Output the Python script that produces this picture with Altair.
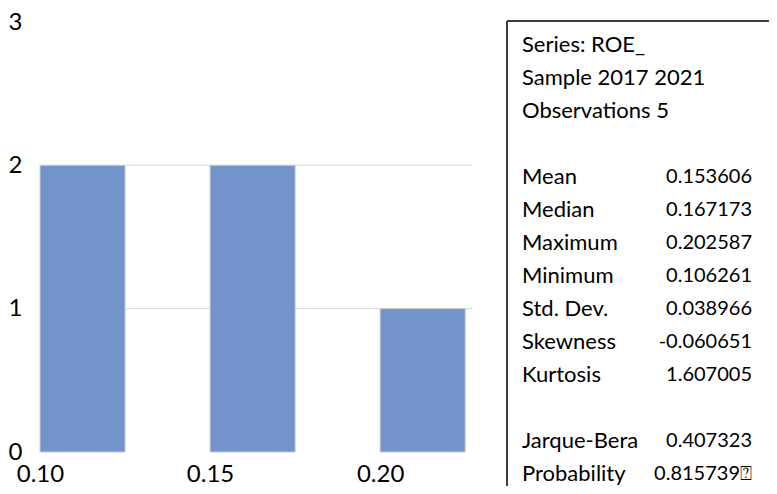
import altair as alt
import pandas as pd

# Histogram data
bin_start = [0.100, 0.125, 0.150, 0.175, 0.200]
bin_end = [0.125, 0.150, 0.175, 0.200, 0.225]
counts = [2, 0, 2, 0, 1]

# Gridline values
grid_values = [1, 2]

# Stats table
stat_labels = ["Series: ROE_", "Sample 2017 2021", "Observations 5",
               "Mean", "Median", "Maximum", "Minimum", "Std. Dev.",
               "Skewness", "Kurtosis", "Jarque-Bera", "Probability"]
stat_values = ["", "", "",
               "0.153606", "0.167173", "0.202587", "0.106261", "0.038966",
               "-0.060651", "1.607005", "0.407323", "0.815739\u2370"]
stat_rows = [0, 1, 2, 4, 5, 6, 7, 8, 9, 10, 12, 13]

FONT = "Lato"

hist = pd.DataFrame({"start": bin_start, "end": bin_end, "count": counts})
grid = pd.DataFrame({"g": grid_values})
table = pd.DataFrame({"label": stat_labels, "value": stat_values, "row": stat_rows})

xscale = alt.Scale(domain=[0.1, 0.227], nice=False, zero=False, padding=0)
yscale = alt.Scale(domain=[0, 3], nice=False, padding=0)

yaxis = alt.Axis(values=[0, 1, 2, 3], ticks=False, domain=False, grid=False,
                 labelFont=FONT, labelFontSize=24, labelColor="#000000",
                 labelPadding=18, labelFlush=False)

rules = alt.Chart(grid).mark_rule(color="#D9D9D9", strokeWidth=1).encode(
    y=alt.Y("g:Q", scale=yscale, axis=yaxis, title=None)
)

bars = alt.Chart(hist).transform_filter("datum.count > 0").mark_bar(
    color="#7394CB", stroke="#CACACA", strokeWidth=1, orient="vertical"
).encode(
    x=alt.X("start:Q", scale=xscale, title=None,
            axis=alt.Axis(values=[0.10, 0.15, 0.20], format=".2f", ticks=False,
                          domain=False, grid=False, labelFont=FONT, labelFontSize=24,
                          labelColor="#000000", labelPadding=10, labelFlush=False)),
    x2="end:Q",
    y=alt.Y("count:Q", scale=yscale, title=None, axis=yaxis),
    y2=alt.datum(0),
)

hist_layer = alt.layer(rules, bars)

tscale = alt.Scale(domain=[-0.697, 12.333], reverse=True, nice=False, zero=False)

labels = alt.Chart(table).mark_text(
    align="left", baseline="middle", font=FONT, fontSize=22, color="#000000"
).encode(
    x=alt.value(482),
    y=alt.Y("row:Q", scale=tscale, axis=None),
    text="label:N",
)

values = alt.Chart(table).mark_text(
    align="right", baseline="middle", font=FONT, fontSize=20, color="#000000"
).encode(
    x=alt.value(712),
    y=alt.Y("row:Q", scale=tscale, axis=None),
    text="value:N",
)

box_left = alt.Chart(grid).mark_rule(color="#333333", strokeWidth=1.5).encode(
    x=alt.value(467), y=alt.value(-1), y2=alt.value(470)
)
box_top = alt.Chart(grid).mark_rule(color="#333333", strokeWidth=1.5).encode(
    x=alt.value(467), x2=alt.value(740), y=alt.value(-1)
)

table_layer = alt.layer(labels, values, box_left, box_top)

chart = alt.layer(hist_layer, table_layer).resolve_scale(y="independent").properties(
    width=432,
    height=430,
    autosize=alt.AutoSizeParams(type="none"),
    padding={"left": 32, "top": 14, "right": 297, "bottom": 34},
).configure_view(stroke=None)

chart.save("out.html", embed_options={"renderer": "svg", "actions": False})
